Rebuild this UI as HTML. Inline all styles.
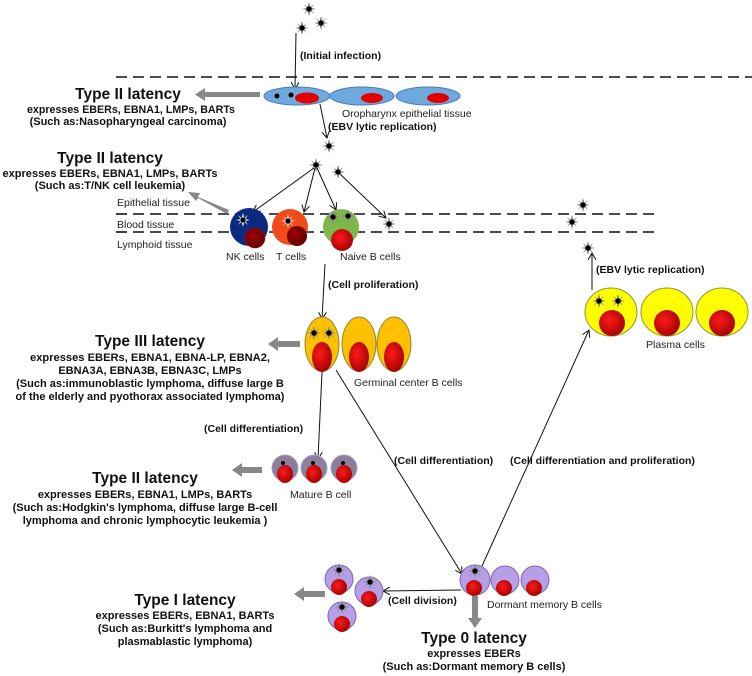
<!DOCTYPE html>
<html><head><meta charset="utf-8"><style>
html,body{margin:0;padding:0;background:#fff;}
svg{display:block;font-family:"Liberation Sans",Arial,sans-serif;}
.t{font-weight:bold;font-size:15.5px;text-anchor:middle;fill:#111}
.b{font-weight:bold;font-size:11px;text-anchor:middle;fill:#111}
.l{font-weight:bold;font-size:10.5px;fill:#111}
.n{font-size:10.5px;fill:#222}
</style></head><body>
<svg width="752" height="676" viewBox="0 0 752 676" xmlns="http://www.w3.org/2000/svg">
<defs>
<marker id="a" markerWidth="8" markerHeight="8" refX="7" refY="4" orient="auto" markerUnits="userSpaceOnUse"><path d="M0,0 L7,4 L0,8" fill="none" stroke="#111" stroke-width="1"/></marker>
<radialGradient id="red" cx="0.4" cy="0.4" r="0.7"><stop offset="0" stop-color="#ff1a1a"/><stop offset="1" stop-color="#9a0000"/></radialGradient>
<radialGradient id="dred" cx="0.4" cy="0.4" r="0.7"><stop offset="0" stop-color="#a00000"/><stop offset="1" stop-color="#5a0000"/></radialGradient>
<g id="v"><path d="M0,-7 L1.5,-2 L5,-5 L2.5,-1 L7,0 L2.5,1 L5,5 L1.5,2 L0,7 L-1.5,2 L-5,5 L-2.5,1 L-7,0 L-2.5,-1 L-5,-5 L-1.5,-2Z" fill="#888"/><circle r="2.6" fill="#000"/></g>
<g id="vw"><path d="M0,-7 L1.5,-2 L5,-5 L2.5,-1 L7,0 L2.5,1 L5,5 L1.5,2 L0,7 L-1.5,2 L-5,5 L-2.5,1 L-7,0 L-2.5,-1 L-5,-5 L-1.5,-2Z" fill="#ddd"/><circle r="2.6" fill="#000"/></g>
</defs>
<g stroke="#111" stroke-width="1.6" stroke-dasharray="11,6">
<line x1="116" y1="77" x2="752" y2="77"/>
<line x1="116" y1="214" x2="660" y2="214"/>
<line x1="116" y1="232" x2="660" y2="232"/>
</g>
<use href="#v" x="309" y="9"/><use href="#v" x="321" y="23"/><use href="#v" x="302" y="28"/>
<line x1="296" y1="33" x2="295" y2="89" stroke="#111" marker-end="url(#a)"/>
<text class="l" x="300" y="59">(Initial infection)</text>
<g fill="#6fa8dc" stroke="#4a7ebb"><ellipse cx="297" cy="96" rx="33" ry="9"/><ellipse cx="362" cy="96" rx="32" ry="9"/><ellipse cx="428" cy="96" rx="32" ry="9"/></g>
<g fill="#e00000"><ellipse cx="307" cy="98" rx="12" ry="5.5"/><ellipse cx="372" cy="98" rx="11" ry="5"/><ellipse cx="438" cy="98" rx="11" ry="5"/></g>
<circle cx="277" cy="96" r="2.5"/><circle cx="291" cy="95" r="2.5"/>
<text class="n" x="342" y="117">Oropharynx epithelial tissue</text>
<path d="M260,92 L205,92 L205,88 L195,94.5 L205,101 L205,97 L260,97Z" fill="#888"/>
<text class="t" x="128" y="99">Type II latency</text>
<text class="b" x="131" y="113" textLength="208" lengthAdjust="spacingAndGlyphs">expresses EBERs, EBNA1, LMPs, BARTs</text>
<text class="b" x="128" y="125">(Such as:Nasopharyngeal carcinoma)</text>
<line x1="320" y1="104" x2="327" y2="138" stroke="#111" marker-end="url(#a)"/>
<text class="l" x="328" y="130">(EBV lytic replication)</text>
<use href="#v" x="329" y="146"/><use href="#v" x="316" y="165"/><use href="#v" x="338" y="172"/>
<text class="t" x="110" y="163">Type II latency</text>
<text class="b" x="110" y="177" textLength="215" lengthAdjust="spacingAndGlyphs">expresses EBERs, EBNA1, LMPs, BARTs</text>
<text class="b" x="110" y="189">(Such as:T/NK cell leukemia)</text>
<path d="M229,210 L198,197 L200,193 L188,192 L196,201 L198,198 L227,214Z" fill="#888"/>
<text class="n" x="117" y="206">Epithelial tissue</text>
<text class="n" x="117" y="228">Blood tissue</text>
<text class="n" x="117" y="248">Lymphoid tissue</text>
<g stroke="#111" fill="none">
<line x1="314" y1="168" x2="253" y2="212" marker-end="url(#a)"/>
<line x1="315" y1="168" x2="304" y2="212" marker-end="url(#a)"/>
<line x1="317" y1="168" x2="336" y2="210" marker-end="url(#a)"/>
<line x1="340" y1="174" x2="386" y2="218" marker-end="url(#a)"/>
</g>
<use href="#v" x="389" y="224"/>
<circle cx="249" cy="227" r="19" fill="#0a2a80"/><circle cx="255" cy="238" r="10" fill="url(#dred)" stroke="#c00" stroke-width="0.6"/><use href="#vw" x="243" y="220"/>
<circle cx="290" cy="227" r="18" fill="#f24a1a"/><circle cx="297" cy="236" r="10" fill="url(#dred)"/><use href="#vw" x="288" y="221"/>
<circle cx="341" cy="227" r="18" fill="#7cb84a"/><circle cx="342" cy="240" r="11" fill="url(#red)"/><use href="#v" x="333" y="217"/><use href="#v" x="348" y="216"/>
<text class="n" x="226" y="260">NK cells</text><text class="n" x="276" y="260">T cells</text><text class="n" x="340" y="260">Naive B cells</text>
<line x1="325" y1="264" x2="322" y2="319" stroke="#111" marker-end="url(#a)"/>
<text class="l" x="328" y="288">(Cell proliferation)</text>
<g fill="#ffc000" stroke="#8a8a30"><ellipse cx="322" cy="344" rx="17" ry="27"/><ellipse cx="359" cy="344" rx="17" ry="27"/><ellipse cx="394" cy="344" rx="17" ry="27"/></g>
<g fill="url(#red)"><ellipse cx="322" cy="357" rx="10" ry="15"/><ellipse cx="359" cy="357" rx="10" ry="15"/><ellipse cx="394" cy="357" rx="10" ry="15"/></g>
<use href="#v" x="314" y="333"/><use href="#v" x="329" y="333"/>
<text class="n" x="354" y="386">Germinal center B cells</text>
<path d="M300,341 L278,341 L278,337 L268,344 L278,351 L278,347 L300,347Z" fill="#888"/>
<text class="t" x="150" y="346">Type III latency</text>
<text class="b" x="150" y="361" textLength="240" lengthAdjust="spacingAndGlyphs">expresses EBERs, EBNA1, EBNA-LP, EBNA2,</text>
<text class="b" x="150" y="374">EBNA3A, EBNA3B, EBNA3C, LMPs</text>
<text class="b" x="150" y="387">(Such as:immunoblastic lymphoma, diffuse large B</text>
<text class="b" x="150" y="400">of the elderly and pyothorax associated lymphoma)</text>
<line x1="322" y1="372" x2="318" y2="459" stroke="#111" marker-end="url(#a)"/>
<text class="l" x="204" y="432">(Cell differentiation)</text>
<g fill="#8c7f9c" stroke="#a8a0c8"><circle cx="285" cy="468" r="13"/><circle cx="314" cy="468" r="13"/><circle cx="344" cy="468" r="13"/></g>
<g fill="url(#red)"><ellipse cx="285" cy="474" rx="8" ry="9"/><ellipse cx="314" cy="474" rx="8" ry="9"/><ellipse cx="344" cy="474" rx="8" ry="9"/></g>
<circle cx="283" cy="463" r="2" /><circle cx="313" cy="463" r="2"/><circle cx="343" cy="463" r="2"/>
<text class="n" x="290" y="498">Mature B cell</text>
<path d="M262,467 L242,467 L242,463 L232,470 L242,477 L242,473 L262,473Z" fill="#888"/>
<text class="t" x="145" y="483">Type II latency</text>
<text class="b" x="145" y="498">expresses EBERs, EBNA1, LMPs, BARTs</text>
<text class="b" x="145" y="511">(Such as:Hodgkin's lymphoma, diffuse large B-cell</text>
<text class="b" x="145" y="524">lymphoma and chronic lymphocytic leukemia )</text>
<line x1="336" y1="370" x2="462" y2="574" stroke="#111" marker-end="url(#a)"/>
<text class="l" x="394" y="464">(Cell differentiation)</text>
<line x1="482" y1="566" x2="589" y2="330" stroke="#111" marker-end="url(#a)"/>
<text class="l" x="510" y="464">(Cell differentiation and proliferation)</text>
<g fill="#b79ee8" stroke="#7a6aa8"><circle cx="475" cy="580" r="15"/><circle cx="505" cy="580" r="14"/><circle cx="535" cy="580" r="14"/></g>
<g fill="url(#red)"><circle cx="474" cy="588" r="8"/><circle cx="504" cy="588" r="8"/><circle cx="534" cy="588" r="8"/></g>
<use href="#v" x="475" y="571"/>
<text class="n" x="487" y="608">Dormant memory B cells</text>
<path d="M472,596 L478,596 L478,618 L482,618 L475,628 L468,618 L472,618Z" fill="#888"/>
<text class="t" x="474" y="643">Type 0 latency</text>
<text class="b" x="474" y="657">expresses EBERs</text>
<text class="b" x="474" y="670">(Such as:Dormant memory B cells)</text>
<line x1="461" y1="590" x2="383" y2="591" stroke="#111" marker-end="url(#a)"/>
<text class="l" x="388" y="604">(Cell division)</text>
<g fill="#b79ee8" stroke="#7a6aa8"><circle cx="339" cy="579" r="14"/><circle cx="369" cy="591" r="14"/><circle cx="342" cy="616" r="14"/></g>
<g fill="url(#red)"><circle cx="339" cy="587" r="8"/><circle cx="369" cy="599" r="8"/><circle cx="342" cy="624" r="8"/></g>
<use href="#v" x="339" y="570"/><use href="#v" x="370" y="582"/><use href="#v" x="342" y="607"/>
<path d="M325,591 L304,591 L304,587 L294,594 L304,601 L304,597 L325,597Z" fill="#888"/>
<text class="t" x="185" y="605">Type I latency</text>
<text class="b" x="185" y="619">expresses EBERs, EBNA1, BARTs</text>
<text class="b" x="185" y="632">(Such as:Burkitt's lymphoma and</text>
<text class="b" x="185" y="645">plasmablastic lymphoma)</text>
<g fill="#ffff00" stroke="#8a9a30"><ellipse cx="611" cy="312" rx="26" ry="24"/><ellipse cx="667" cy="312" rx="26" ry="24"/><ellipse cx="722" cy="312" rx="26" ry="24"/></g>
<g fill="url(#red)"><circle cx="612" cy="323" r="13"/><circle cx="667" cy="323" r="13"/><circle cx="722" cy="323" r="13"/></g>
<use href="#v" x="599" y="301"/><use href="#v" x="618" y="301"/>
<text class="n" x="646" y="348">Plasma cells</text>
<line x1="592" y1="290" x2="592" y2="253" stroke="#111" marker-end="url(#a)"/>
<text class="l" x="596" y="273">(EBV lytic replication)</text>
<use href="#v" x="588" y="248"/><use href="#v" x="583" y="205"/><use href="#v" x="572" y="222"/>
</svg>
</body></html>
